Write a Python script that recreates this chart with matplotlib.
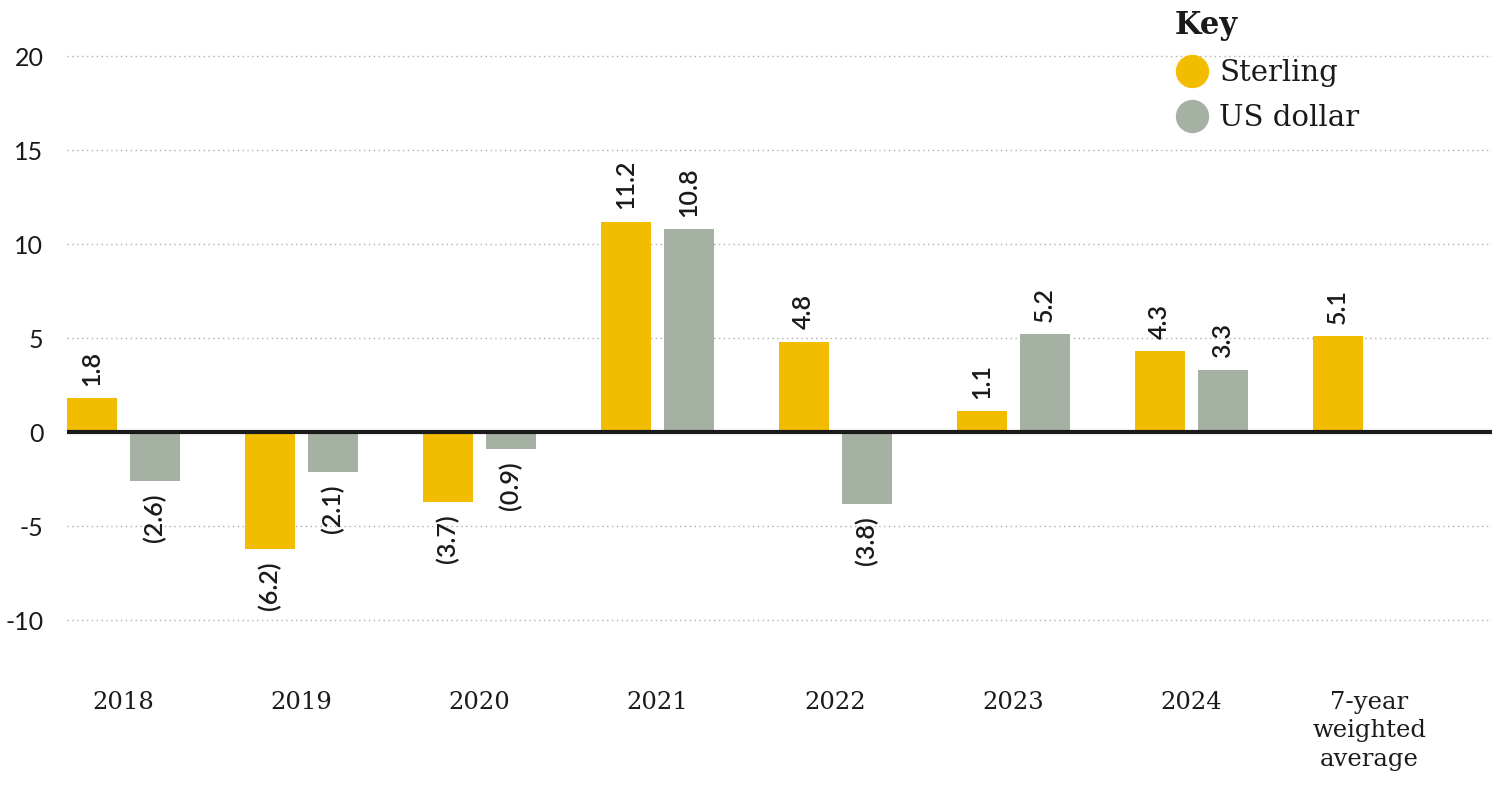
import numpy as np
import matplotlib
matplotlib.use("Agg")
import matplotlib.pyplot as plt
from matplotlib.lines import Line2D

# Chart data
categories = ["2018", "2019", "2020", "2021", "2022", "2023", "2024",
              "7-year\nweighted\naverage"]
sterling = [1.8, -6.2, -3.7, 11.2, 4.8, 1.1, 4.3, 5.1]
us_dollar = [-2.6, -2.1, -0.9, 10.8, -3.8, 5.2, 3.3, None]
y_ticks = [20, 15, 10, 5, 0, -5, -10]

STERLING_COL = "#F2BC00"
USD_COL = "#A5B1A3"
NUM_FONT = "Lato"
SERIF_FONT = "DejaVu Serif"


def fmt(v):
    """Negative values are shown in brackets"""
    return f"({abs(v):.1f})" if v < 0 else f"{v:.1f}"


def label_bar(ax, x, v):
    off = 9 if v >= 0 else -9
    ax.annotate(fmt(v), (x, v), xytext=(0, off), textcoords="offset points",
                rotation=90, ha="center", va="bottom" if v >= 0 else "top",
                fontsize=18, family=NUM_FONT, weight="semibold",
                color="#1a1a1a")


fig = plt.figure(figsize=(15.09, 7.98), dpi=100)
ax = fig.add_axes([67 / 1509, 0.164, (1492 - 67) / 1509, 0.801])

x = np.arange(len(categories))
w = 0.28
off = 0.177

# bars
for i, v in enumerate(sterling):
    ax.bar(x[i] - off, v, w, color=STERLING_COL, zorder=2)
    label_bar(ax, x[i] - off, v)
for i, v in enumerate(us_dollar):
    if v is None:
        continue
    ax.bar(x[i] + off, v, w, color=USD_COL, zorder=2)
    label_bar(ax, x[i] + off, v)

# grid + zero line
for t in y_ticks:
    if t != 0:
        ax.axhline(t, color="#b0b0b0", lw=1.0, ls=(0, (1, 2.5)), zorder=1)
ax.axhline(0, color="#1a1a1a", lw=3, zorder=3)

ax.set_xlim(-0.317, 7.69)
ax.set_ylim(-12.5, 21.5)
ax.set_yticks(y_ticks)
ax.set_yticklabels([str(t) for t in y_ticks], family=NUM_FONT, fontsize=18,
                   color="#1a1a1a")
ax.set_xticks(x)
ax.set_xticklabels(categories, family=SERIF_FONT, fontsize=17.5,
                   color="#1a1a1a", linespacing=1.3)
ax.tick_params(axis="y", length=0, pad=17)
ax.tick_params(axis="x", length=0, pad=17)
for s in ax.spines.values():
    s.set_visible(False)

# key
handles = [Line2D([], [], ls="", marker="o", ms=23, color=STERLING_COL),
           Line2D([], [], ls="", marker="o", ms=23, color=USD_COL)]
leg = fig.legend(handles, ["Sterling", "US dollar"], title="Key",
                 loc="upper left", bbox_to_anchor=(1148 / 1509, 1.02),
                 frameon=False, handletextpad=0.35, labelspacing=0.6,
                 handlelength=1.2, alignment="left",
                 prop={"family": SERIF_FONT, "size": 21},
                 title_fontproperties={"family": SERIF_FONT, "size": 22,
                                       "weight": "bold"})
leg.get_title().set_color("#1a1a1a")
for t in leg.get_texts():
    t.set_color("#1a1a1a")

fig.savefig("out.png", dpi=100)
